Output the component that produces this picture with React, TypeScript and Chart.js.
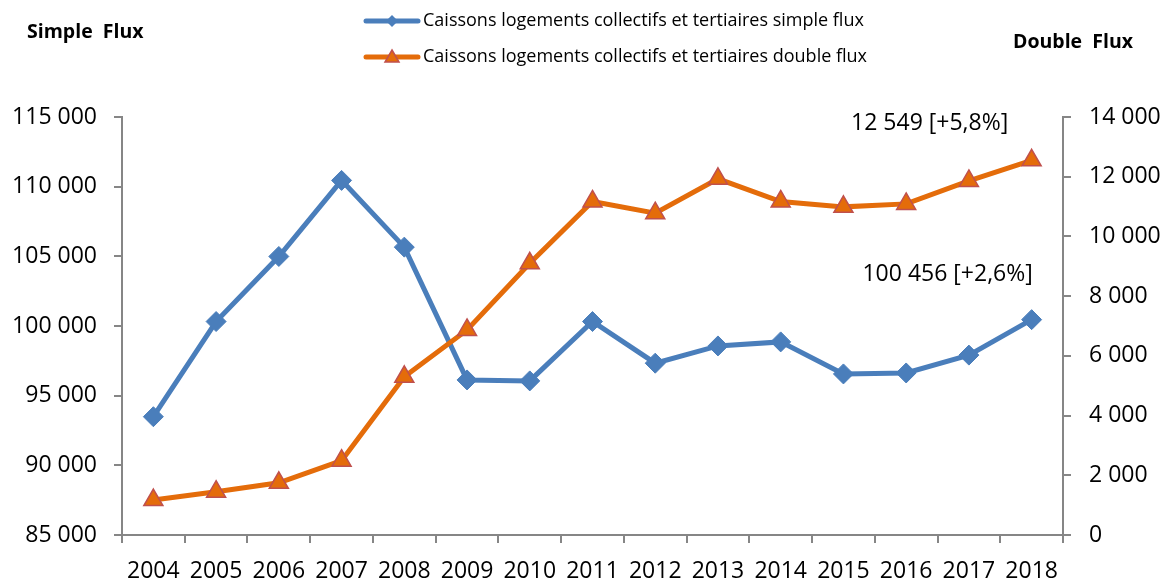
import React, { useEffect, useRef } from 'react';
import { Chart, registerables } from 'chart.js';

Chart.register(...registerables);

const years = ['2004', '2005', '2006', '2007', '2008', '2009', '2010', '2011', '2012', '2013', '2014', '2015', '2016', '2017', '2018'];
const simpleFlux = [93490, 100320, 104990, 110450, 105660, 96130, 96060, 100320, 97330, 98570, 98860, 96560, 96630, 97910, 100456];
const doubleFlux = [1170, 1450, 1750, 2490, 5300, 6870, 9100, 11170, 10780, 11930, 11170, 10990, 11090, 11860, 12549];
const simpleLabel = 'Caissons logements collectifs et tertiaires simple flux';
const doubleLabel = 'Caissons logements collectifs et tertiaires double flux';
const leftAxisTitle = 'Simple  Flux';
const rightAxisTitle = 'Double  Flux';
const simpleNote = '100 456 [+2,6%]';
const doubleNote = '12 549 [+5,8%]';

const BLUE = '#4A7EBB';
const ORANGE = '#E46C0A';
const RED_EDGE = '#C0504D';
const AXIS = '#868686';
const FONT = "'Open Sans', sans-serif";

const fmt = (v: number) => String(v).replace(/\B(?=(\d{3})+(?!\d))/g, ' ');

function drawDiamond(ctx: CanvasRenderingContext2D, x: number, y: number, r: number) {
  ctx.beginPath();
  ctx.moveTo(x, y - r);
  ctx.lineTo(x + r, y);
  ctx.lineTo(x, y + r);
  ctx.lineTo(x - r, y);
  ctx.closePath();
}
function drawTriangle(ctx: CanvasRenderingContext2D, x: number, y: number, w: number, h: number) {
  ctx.beginPath();
  ctx.moveTo(x, y - h / 2);
  ctx.lineTo(x + w / 2, y + h / 2);
  ctx.lineTo(x - w / 2, y + h / 2);
  ctx.closePath();
}

const decorPlugin = {
  id: 'decor',
  afterDraw(chart: any) {
    const ctx: CanvasRenderingContext2D = chart.ctx;
    ctx.save();
    // Axis titles
    ctx.fillStyle = '#000';
    ctx.font = `bold 19.5px ${FONT}`;
    ctx.textBaseline = 'middle';
    ctx.textAlign = 'left';
    ctx.fillText(leftAxisTitle, 27, 32);
    ctx.textAlign = 'right';
    ctx.fillText(rightAxisTitle, 1133, 42);

    // Legend
    const rows = [
      { label: chart.data.datasets[0].label, color: BLUE, y: 21, kind: 'diamond' },
      { label: chart.data.datasets[1].label, color: ORANGE, y: 57, kind: 'triangle' },
    ];
    rows.forEach((r) => {
      ctx.strokeStyle = r.color;
      ctx.lineWidth = 5;
      ctx.lineCap = 'round';
      ctx.beginPath();
      ctx.moveTo(366, r.y);
      ctx.lineTo(418, r.y);
      ctx.stroke();
      if (r.kind === 'diamond') {
        ctx.fillStyle = BLUE;
        drawDiamond(ctx, 392, r.y, 6);
        ctx.fill();
      } else {
        ctx.fillStyle = ORANGE;
        ctx.strokeStyle = RED_EDGE;
        ctx.lineWidth = 1.5;
        drawTriangle(ctx, 392, r.y - 1, 14, 12);
        ctx.fill();
        ctx.stroke();
      }
      ctx.fillStyle = '#000';
      ctx.font = `18px ${FONT}`;
      ctx.textAlign = 'left';
      ctx.textBaseline = 'middle';
      ctx.fillText(r.label, 423, r.y);
    });

    // Last-point notes
    ctx.font = `23px ${FONT}`;
    ctx.textAlign = 'center';
    ctx.textBaseline = 'middle';
    ctx.fillStyle = '#000';
    const m0 = chart.getDatasetMeta(0);
    const m1 = chart.getDatasetMeta(1);
    const p0 = m0.data[m0.data.length - 1];
    const p1 = m1.data[m1.data.length - 1];
    ctx.fillText(simpleNote, p0.x - 84, p0.y - 45);
    ctx.fillText(doubleNote, p1.x - 102, p1.y - 37);
    ctx.restore();
  },
};

export default function App() {
  const ref = useRef<HTMLCanvasElement>(null);
  useEffect(() => {
    if (!ref.current) return;
    const chart = new Chart(ref.current, {
      type: 'line',
      data: {
        labels: years,
        datasets: [
          {
            label: simpleLabel,
            data: simpleFlux,
            yAxisID: 'y',
            borderColor: BLUE,
            backgroundColor: BLUE,
            borderWidth: 5,
            pointStyle: 'rectRot',
            pointRadius: 10,
            pointBorderWidth: 1,
            pointBorderColor: BLUE,
            pointBackgroundColor: BLUE,
            tension: 0,
            order: 1,
          },
          {
            label: doubleLabel,
            data: doubleFlux,
            yAxisID: 'y1',
            borderColor: ORANGE,
            backgroundColor: ORANGE,
            borderWidth: 5,
            pointStyle: 'triangle',
            pointRadius: 11,
            pointBorderWidth: 1.5,
            pointBorderColor: RED_EDGE,
            pointBackgroundColor: ORANGE,
            tension: 0,
            order: 0,
          },
        ],
      },
      options: {
        responsive: false,
        animation: false,
        devicePixelRatio: 1,
        layout: { padding: { top: 117, left: 0, right: 0, bottom: 0 } },
        plugins: {
          legend: { display: false },
          tooltip: { enabled: false },
        },
        scales: {
          x: {
            offset: true,
            grid: { offset: true, drawOnChartArea: false, drawTicks: true, tickLength: 8, color: AXIS, lineWidth: 2 },
            border: { color: AXIS, width: 2 },
            ticks: { color: '#000', font: { family: FONT, size: 23 }, padding: 15, maxRotation: 0, autoSkip: false },
            afterFit: (s: any) => { s.height = 44; },
          },
          y: {
            position: 'left',
            min: 85000,
            max: 115000,
            ticks: { stepSize: 5000, color: '#000', font: { family: FONT, size: 23 }, padding: 17, callback: (v: any) => fmt(Number(v)) },
            grid: { drawOnChartArea: false, drawTicks: true, tickLength: 8, color: AXIS, lineWidth: 2 },
            border: { color: AXIS, width: 2 },
            afterFit: (s: any) => { s.width = 122; },
          },
          y1: {
            position: 'right',
            min: 0,
            max: 14000,
            ticks: { stepSize: 2000, color: '#000', font: { family: FONT, size: 23 }, padding: 18, callback: (v: any) => fmt(Number(v)) },
            grid: { drawOnChartArea: false, drawTicks: true, tickLength: 8, color: AXIS, lineWidth: 2 },
            border: { color: AXIS, width: 2 },
            afterFit: (s: any) => { s.width = 101; },
          },
        },
      },
      plugins: [decorPlugin],
    });
    return () => chart.destroy();
  }, []);
  return (
    <div style={{ position: 'absolute', left: 0, top: 0, width: 1164, height: 579, background: '#fff' }}>
      <canvas ref={ref} width={1164} height={579} />
    </div>
  );
}
